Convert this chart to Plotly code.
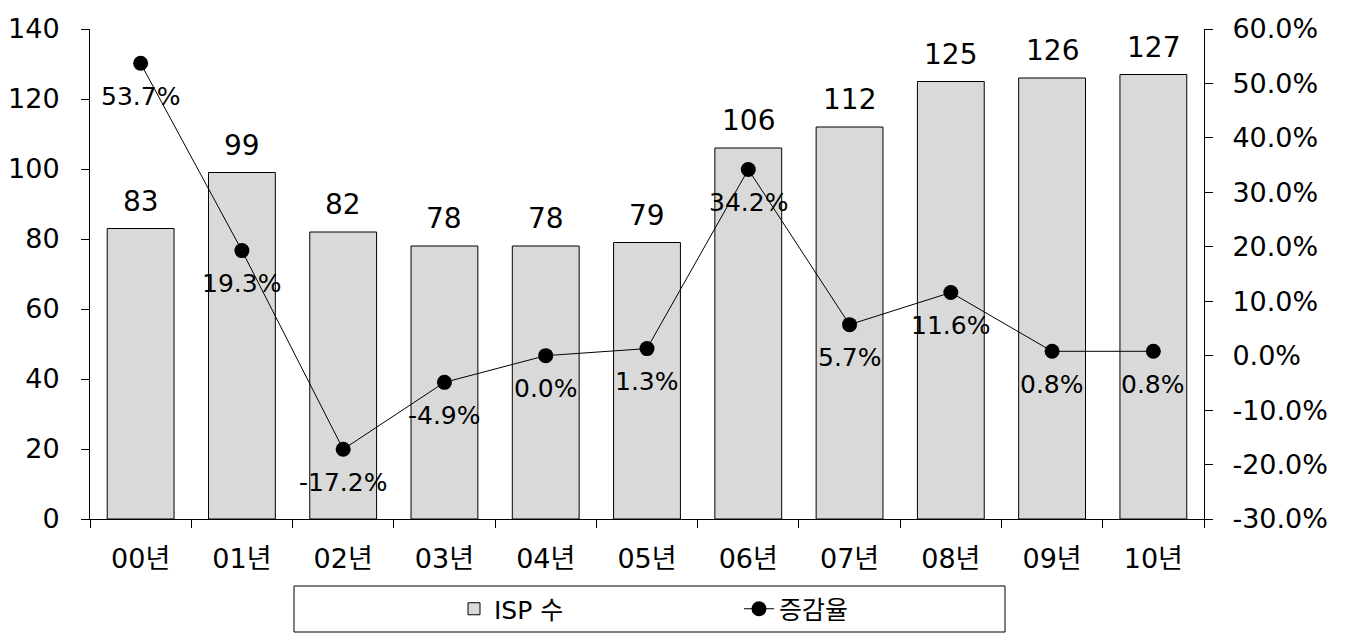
import plotly.graph_objects as go

categories = ["00년", "01년", "02년", "03년", "04년", "05년", "06년", "07년", "08년", "09년", "10년"]
isp_count = [83, 99, 82, 78, 78, 79, 106, 112, 125, 126, 127]
growth_rate = [53.7, 19.3, -17.2, -4.9, 0.0, 1.3, 34.2, 5.7, 11.6, 0.8, 0.8]
left_ticks = [0, 20, 40, 60, 80, 100, 120, 140]
right_ticks = [-30, -20, -10, 0, 10, 20, 30, 40, 50, 60]

FONT = "DejaVu Sans, Noto Sans CJK KR, sans-serif"
FS = 27

fig = go.Figure()
fig.add_trace(go.Bar(
    x=categories, y=isp_count, name="ISP 수",
    marker=dict(color="#d9d9d9", line=dict(color="black", width=1)),
    width=0.66,
))
fig.add_trace(go.Scatter(
    x=categories, y=growth_rate, name="증감율", yaxis="y2",
    mode="lines+markers",
    line=dict(color="black", width=1),
    marker=dict(color="black", size=15),
))

annotations = []
for c, v in zip(categories, isp_count):
    annotations.append(dict(x=c, y=v, xref="x", yref="y", text=str(v), showarrow=False,
                            yanchor="bottom", yshift=9, font=dict(size=28, family=FONT, color="black")))
for c, v in zip(categories, growth_rate):
    annotations.append(dict(x=c, y=v, xref="x", yref="y2", text=f"{v:.1f}%", showarrow=False,
                            yanchor="middle", yshift=-33, font=dict(size=25, family=FONT, color="black")))

fig.update_layout(
    width=1346, height=637,
    margin=dict(l=90, r=142, t=29, b=118),
    paper_bgcolor="white", plot_bgcolor="white",
    font=dict(family=FONT, size=FS, color="black"),
    xaxis=dict(
        range=[-0.5, len(categories) - 0.5], automargin=False,
        showline=True, linecolor="black", linewidth=1,
        ticks="outside", tickson="boundaries", ticklen=8, tickcolor="black",
        showgrid=False, tickfont=dict(size=FS), ticklabelstandoff=16,
    ),
    yaxis=dict(
        range=[0, 140], tickvals=left_ticks, ticktext=[str(t) for t in left_ticks],
        automargin=False, showline=True, linecolor="black", linewidth=1,
        ticks="outside", ticklen=8, tickcolor="black", showgrid=False, zeroline=False,
        tickfont=dict(size=FS), ticklabelstandoff=16,
    ),
    yaxis2=dict(
        range=[-30, 60], tickvals=right_ticks, ticktext=[f"{t:.1f}%" for t in right_ticks],
        overlaying="y", side="right", automargin=False,
        showline=True, linecolor="black", linewidth=1,
        ticks="outside", ticklen=8, tickcolor="black", showgrid=False, zeroline=False,
        tickfont=dict(size=FS), ticklabelstandoff=14,
    ),
    showlegend=True,
    legend=dict(
        orientation="h", xref="container", x=454 / 1346, xanchor="left",
        yref="container", y=1 - 609 / 637, yanchor="middle",
        font=dict(size=25, family=FONT), entrywidth=240, bgcolor="rgba(0,0,0,0)",
        traceorder="normal",
    ),
    shapes=[dict(type="rect", xref="paper", yref="paper",
                 x0=(294 - 90) / 1114, x1=(1005 - 90) / 1114,
                 y0=(519 - 632) / 490, y1=(519 - 586) / 490,
                 line=dict(color="black", width=1), fillcolor="rgba(0,0,0,0)")],
    annotations=annotations,
)

fig.write_html("out.html")
